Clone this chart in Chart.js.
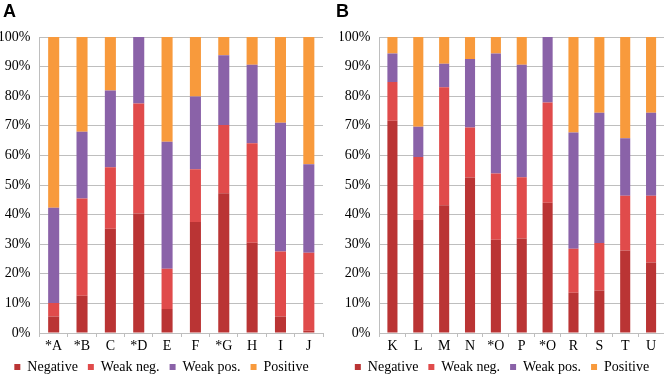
<!DOCTYPE html>
<html>
<head>
<meta charset="utf-8">
<script src="https://cdn.jsdelivr.net/npm/chart.js@4/dist/chart.umd.min.js"></script>
<style>
  body { margin: 0; background: #fff; }
  .wrap { position: absolute; top: 0; width: 332px; height: 374px; }
  .tag { position: absolute; top: 1px; font: bold 18px "Liberation Sans", Arial, sans-serif; color: #000; }
  .warm { position: absolute; left: -999px; font: 13px "Liberation Serif"; }
</style>
</head>
<body>
<span class="warm">Negative 100%</span>
<div class="wrap" style="left:0"><canvas id="chartA" width="332" height="374"></canvas><div class="tag" style="left:3px">A</div></div>
<div class="wrap" style="left:332px"><canvas id="chartB" width="332" height="374"></canvas><div class="tag" style="left:4px">B</div></div>
<script>
// panel A
const labelsA = ["*A", "*B", "C", "*D", "E", "F", "*G", "H", "I", "J"];
const negativeA = [5.6, 12.6, 35.2, 40.4, 8.1, 37.5, 47.2, 30.5, 5.6, 0.8];
const weakNegA = [4.5, 32.8, 20.8, 37.1, 13.6, 17.8, 23.1, 33.6, 21.9, 26.3];
const weakPosA = [32.2, 22.6, 25.9, 22.5, 42.9, 24.6, 23.5, 26.5, 43.5, 29.9];
const positiveA = [57.7, 32.0, 18.1, 0, 35.4, 20.1, 6.2, 9.4, 29.0, 43.0];

// panel B
const labelsB = ["K", "L", "M", "N", "*O", "P", "*Q", "R", "S", "T", "U"];
const negativeB = [71.7, 38.2, 43.2, 52.5, 31.5, 31.9, 44.0, 13.6, 14.4, 27.9, 23.8];
const weakNegB = [13.1, 21.3, 39.8, 16.9, 22.4, 20.7, 33.9, 14.9, 16.0, 18.5, 22.6];
const weakPosB = [9.6, 10.2, 8.0, 23.2, 40.5, 38.0, 22.1, 39.2, 44.0, 19.4, 28.0];
const positiveB = [5.6, 30.3, 9.0, 7.4, 5.6, 9.4, 0, 32.3, 25.6, 34.2, 25.6];

const seriesNames = ["Negative", "Weak neg.", "Weak pos.", "Positive"];
const seriesColors = ["#BA3434", "#E04B4B", "#8A62A8", "#F89A3C"];
const yTicks = [0, 10, 20, 30, 40, 50, 60, 70, 80, 90, 100];

const gridColor = "#BEBEBE";
const serif = "'Liberation Serif', 'Times New Roman', serif";

function makeChart(id, labels, values, pad) {
  const datasets = values.map((v, i) => ({
    label: seriesNames[i],
    data: v,
    backgroundColor: seriesColors[i],
    borderWidth: 0,
    barPercentage: 0.39,
    categoryPercentage: 1,
  }));

  return new Chart(document.getElementById(id), {
    type: "bar",
    data: { labels: labels, datasets: datasets },
    options: {
      responsive: false,
      animation: false,
      layout: { padding: pad },
      plugins: {
        legend: {
          position: "bottom",
          labels: {
            boxWidth: 6,
            boxHeight: 6,
            padding: 10,
            color: "#000",
            font: { family: serif, size: 14 },
          },
        },
        title: { display: false },
        tooltip: { enabled: false },
      },
      scales: {
        x: {
          stacked: true,
          afterFit: (s) => { s.height = 17; },
          grid: {
            offset: true,
            drawOnChartArea: false,
            drawTicks: true,
            tickLength: 4,
            color: gridColor,
          },
          border: { display: true, color: gridColor },
          ticks: { color: "#000", padding: 1, font: { family: serif, size: 14 } },
        },
        y: {
          stacked: true,
          min: 0,
          max: 100,
          afterFit: (s) => { s.width = 39.5; },
          afterBuildTicks: (s) => { s.ticks = yTicks.map((v) => ({ value: v })); },
          grid: { color: gridColor, drawTicks: false },
          border: { display: true, color: gridColor },
          ticks: {
            color: "#000",
            padding: 9,
            font: { family: serif, size: 14 },
            callback: (v) => v + "%",
          },
        },
      },
    },
  });
}

function draw() {
  makeChart("chartA", labelsA, [negativeA, weakNegA, weakPosA, positiveA], { top: 37, left: 0, right: 9, bottom: -10 });
  makeChart("chartB", labelsB, [negativeB, weakNegB, weakPosB, positiveB], { top: 37, left: 8, right: 0, bottom: -10 });
}

document.fonts.load("14px 'Liberation Serif'").then(draw, draw);
</script>
</body>
</html>
